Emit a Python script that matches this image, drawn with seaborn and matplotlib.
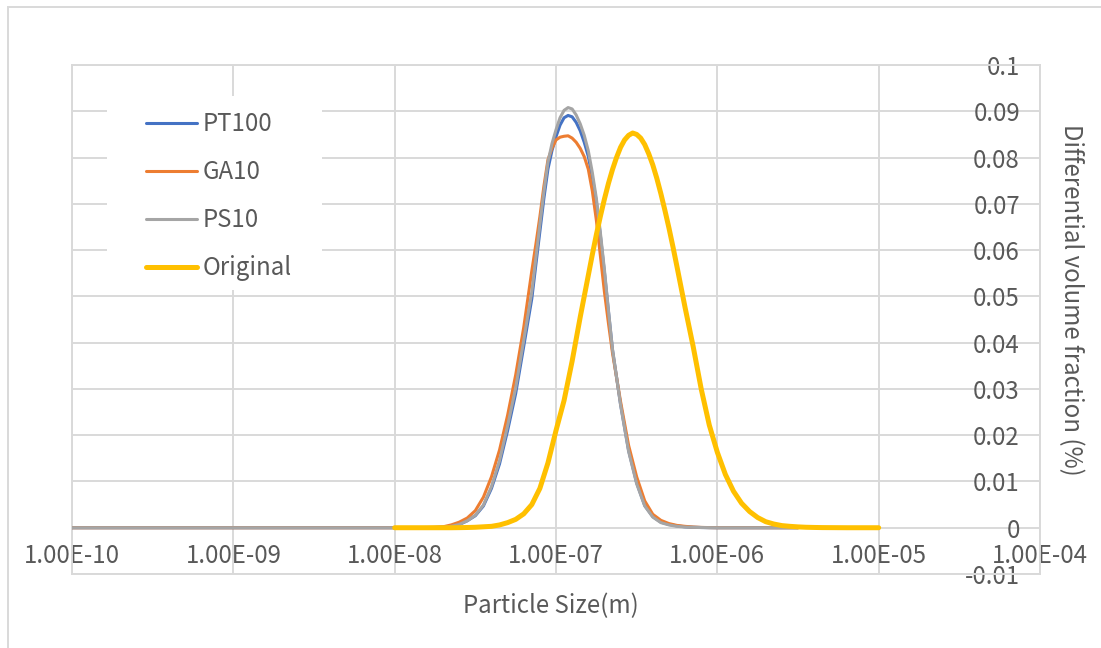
import numpy as np
import pandas as pd
import matplotlib
matplotlib.use("Agg")
import matplotlib.pyplot as plt
import seaborn as sns
from matplotlib.patches import Rectangle

sns.set_style("white")
plt.rcParams["font.family"] = ["Noto Sans CJK SC", "DejaVu Sans"]
plt.rcParams["font.weight"] = "light"

# ---------------- data ----------------
# particle size given as log10 exponent (m)
size_exp_narrow = [-10, -9, -8, -7.9, -7.85, -7.8, -7.75, -7.7, -7.65, -7.6, -7.55,
                   -7.5, -7.45, -7.4, -7.35, -7.3, -7.25, -7.2,
                   -7.15, -7.125, -7.1, -7.075, -7.05, -7.025, -7.0, -6.975, -6.95,
                   -6.925, -6.9, -6.875, -6.85, -6.825, -6.8, -6.775, -6.75, -6.725,
                   -6.7, -6.675, -6.65,
                   -6.6, -6.55, -6.5, -6.45, -6.4, -6.35, -6.3, -6.25, -6.2, -6.15,
                   -6.1, -6.05, -6.0, -5.5]
pt100 = [0, 0, 0, 0, 0.00001, 0.00002, 0.00005, 0.0001, 0.0003, 0.0007, 0.0015,
         0.0026, 0.0047, 0.0085, 0.0138, 0.0210, 0.0290, 0.0392,
         0.0495, 0.0568, 0.0640, 0.0712, 0.0775, 0.0815, 0.0845, 0.0870, 0.0886,
         0.0891, 0.0888, 0.0876, 0.0858, 0.0833, 0.0803, 0.0758, 0.0705, 0.0632,
         0.0553, 0.0468, 0.0385,
         0.0267, 0.0167, 0.0097, 0.0048, 0.0024, 0.0012, 0.0007, 0.0004, 0.0002, 0.0001,
         0.00005, 0.00002, 0, 0]
ga10 = [0, 0, 0, 0.00001, 0.00002, 0.00005, 0.0001, 0.0002, 0.0006, 0.0012, 0.0021,
        0.0037, 0.0066, 0.0110, 0.0168, 0.0243, 0.0330, 0.0433,
        0.0555, 0.0612, 0.0672, 0.0738, 0.0795, 0.0820, 0.0838, 0.0844, 0.0846,
        0.0847, 0.0842, 0.0833, 0.0820, 0.0802, 0.0775, 0.0728, 0.0665, 0.0588,
        0.0510, 0.0442, 0.0378,
        0.0273, 0.0178, 0.0110, 0.0058, 0.0029, 0.0016, 0.0009, 0.0005, 0.0003, 0.00015,
        0.00007, 0.00003, 0.00001, 0]
ps10 = [0, 0, 0, 0, 0.00001, 0.00002, 0.00005, 0.0001, 0.0003, 0.0007, 0.0015,
        0.0027, 0.0049, 0.0089, 0.0145, 0.0220, 0.0302, 0.0405,
        0.0510, 0.0582, 0.0655, 0.0726, 0.0790, 0.0830, 0.0860, 0.0886, 0.0902,
        0.0908, 0.0905, 0.0892, 0.0873, 0.0848, 0.0815, 0.0768, 0.0712, 0.0638,
        0.0558, 0.0470, 0.0386,
        0.0266, 0.0165, 0.0095, 0.0047, 0.0023, 0.0011, 0.0006, 0.0003, 0.00015, 0.00008,
        0.00004, 0.00002, 0, 0]

size_exp_orig = [-8.0, -7.95, -7.9, -7.85, -7.8, -7.75, -7.7, -7.65, -7.6, -7.55,
                 -7.5, -7.45, -7.4, -7.35, -7.3, -7.25, -7.2, -7.15, -7.1, -7.05,
                 -7.0, -6.95, -6.9, -6.85, -6.8,
                 -6.775, -6.75, -6.725, -6.7, -6.675, -6.65, -6.625, -6.6, -6.575, -6.55,
                 -6.525, -6.5, -6.475, -6.45, -6.425, -6.4, -6.375, -6.35, -6.325, -6.3,
                 -6.275,
                 -6.25, -6.2, -6.15, -6.1, -6.05, -6.0, -5.95, -5.9, -5.85, -5.8,
                 -5.75, -5.7, -5.65, -5.6, -5.55, -5.5, -5.45, -5.4, -5.35, -5.3,
                 -5.25, -5.2, -5.15, -5.1, -5.05, -5.0]
original = [0, 0, 0, 0, 0, 0, 0, 0, 0.00002, 0.00005,
            0.0001, 0.0002, 0.0003, 0.0006, 0.0011, 0.0018, 0.0030, 0.0050, 0.0085, 0.0140,
            0.0210, 0.0275, 0.0360, 0.0455, 0.0545,
            0.0590, 0.0633, 0.0673, 0.0710, 0.0744, 0.0774, 0.0800, 0.0822, 0.0838, 0.0848,
            0.0853, 0.0850, 0.0842, 0.0828, 0.0808, 0.0784, 0.0755, 0.0722, 0.0686, 0.0648,
            0.0607,
            0.0564, 0.0476, 0.0392, 0.0300, 0.0222, 0.0163, 0.0115, 0.0079, 0.0053, 0.0035,
            0.0022, 0.0013, 0.0008, 0.00046, 0.0003, 0.00018, 0.0001, 0.00006, 0.00003, 0.00002,
            0.00001, 0, 0, 0, 0, 0]

x_tick_values = [1e-10, 1e-9, 1e-8, 1e-7, 1e-6, 1e-5, 1e-4]
x_tick_labels = ["1.00E-10", "1.00E-09", "1.00E-08", "1.00E-07",
                 "1.00E-06", "1.00E-05", "1.00E-04"]
y_tick_values = [-0.01, 0, 0.01, 0.02, 0.03, 0.04, 0.05, 0.06, 0.07, 0.08, 0.09, 0.1]
y_tick_labels = ["-0.01", "0", "0.01", "0.02", "0.03", "0.04", "0.05",
                 "0.06", "0.07", "0.08", "0.09", "0.1"]

# ---------------- figure ----------------
W, H = 1101, 648
TXT = "#595959"
GRID = "#D9D9D9"
FS = 17.3

fig = plt.figure(figsize=(W / 100, H / 100), dpi=100)
fig.patch.set_facecolor("white")
ax = fig.add_axes([72 / W, 1 - 574 / H, (1040 - 72) / W, (574 - 65) / H])
ax.set_facecolor("none")
ax.set_xscale("log")

df_n = pd.DataFrame({"size": np.power(10.0, size_exp_narrow),
                     "PT100": pt100, "GA10": ga10, "PS10": ps10})
df_o = pd.DataFrame({"size": np.power(10.0, size_exp_orig), "Original": original})

line_kw = dict(estimator=None, sort=False)
sns.lineplot(data=df_n, x="size", y="PT100", ax=ax, color="#4472C4", lw=2.2,
             label="PT100", zorder=3, **line_kw)
sns.lineplot(data=df_n, x="size", y="GA10", ax=ax, color="#ED7D31", lw=2.2,
             label="GA10", zorder=3, **line_kw)
sns.lineplot(data=df_n, x="size", y="PS10", ax=ax, color="#A5A5A5", lw=2.2,
             label="PS10", zorder=3, **line_kw)
sns.lineplot(data=df_o, x="size", y="Original", ax=ax, color="#FFC000", lw=3.6,
             label="Original", zorder=4, **line_kw)
for ln in ax.get_lines():
    ln.set_solid_joinstyle("round")
    ln.set_solid_capstyle("round")

# legend background (white, no border) covering the gridlines
ax.add_patch(Rectangle((107 / W, 1 - 290 / H), (322 - 107) / W, (290 - 96) / H,
                       transform=fig.transFigure, facecolor="white",
                       edgecolor="none", zorder=2.5))

ax.set_xlim(1e-10, 1e-4)
ax.set_ylim(-0.01, 0.1)
ax.set_xticks(x_tick_values)
ax.set_xticklabels(x_tick_labels)
ax.xaxis.set_minor_locator(matplotlib.ticker.NullLocator())
ax.set_yticks(y_tick_values)
ax.set_yticklabels(y_tick_labels)

ax.grid(True, which="major", color=GRID, lw=1.4)
ax.set_axisbelow(True)
for s in ax.spines.values():
    s.set_color(GRID)
    s.set_linewidth(1.4)

ax.tick_params(axis="x", length=0, pad=-22, labelsize=FS, labelcolor=TXT)
ax.yaxis.tick_right()
ax.tick_params(axis="y", length=0, pad=-14.4, labelsize=FS, labelcolor=TXT,
               labelright=True, labelleft=False)
for t in ax.yaxis.get_major_ticks():
    t.label2.set_horizontalalignment("right")

ax.set_xlabel("")
ax.set_ylabel("")

leg = ax.legend(loc="upper left", bbox_to_anchor=(146 / W, 1 - 111 / H),
                bbox_transform=fig.transFigure, frameon=False, borderpad=0,
                borderaxespad=0, handlelength=2.12, handletextpad=0.25,
                labelspacing=0.92, fontsize=FS, labelcolor=TXT)
leg.set_zorder(6)

fig.text(551 / W, 1 - 606 / H, "Particle Size(m)", ha="center", va="center",
         fontsize=FS, color=TXT)
fig.text(1071 / W, 1 - 300 / H, "Differential volume fraction (%)", ha="center",
         va="center", rotation=270, fontsize=FS, color=TXT)

# outer chart border
fig.patches.append(Rectangle((8 / W, -0.05), 1.2, 1.05 - 7 / H,
                             transform=fig.transFigure, facecolor="none",
                             edgecolor=GRID, lw=1.4, zorder=0))

fig.savefig("out.png", dpi=100, facecolor="white")
